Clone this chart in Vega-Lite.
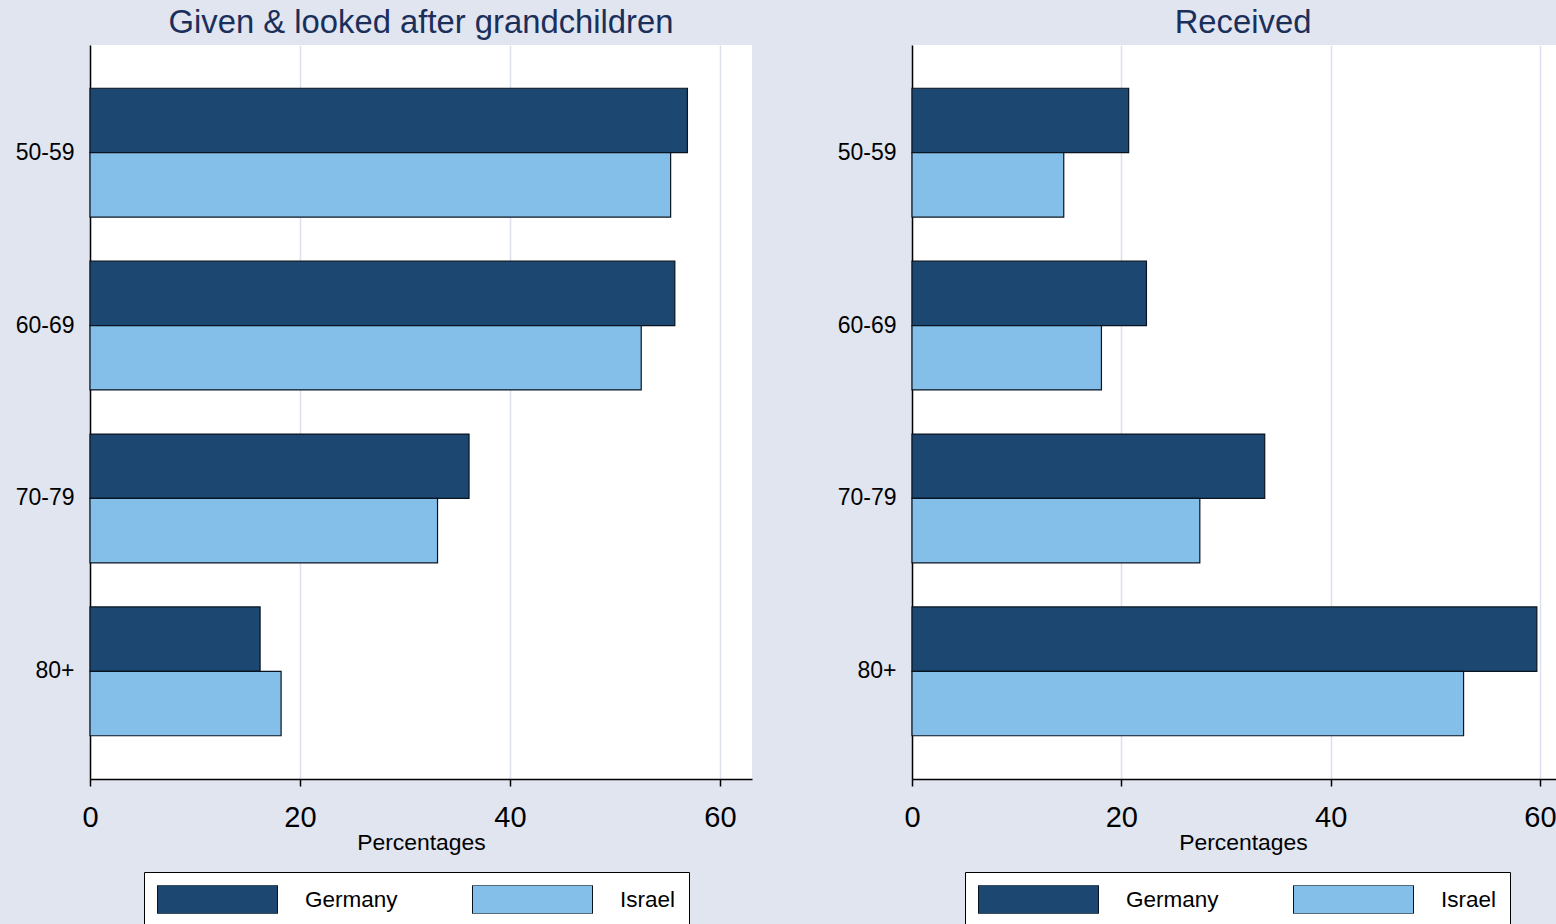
{
  "$schema": "https://vega.github.io/schema/vega-lite/v6.json",
  "background": "#E1E5F0",
  "padding": {"left": 15, "top": 7, "right": 0, "bottom": 0},
  "data": {"values": [
    {"panel": "Given", "age": "50-59", "country": "Germany", "pct": 56.9},
    {"panel": "Given", "age": "50-59", "country": "Israel", "pct": 55.3},
    {"panel": "Given", "age": "60-69", "country": "Germany", "pct": 55.7},
    {"panel": "Given", "age": "60-69", "country": "Israel", "pct": 52.5},
    {"panel": "Given", "age": "70-79", "country": "Germany", "pct": 36.1},
    {"panel": "Given", "age": "70-79", "country": "Israel", "pct": 33.1},
    {"panel": "Given", "age": "80+", "country": "Germany", "pct": 16.2},
    {"panel": "Given", "age": "80+", "country": "Israel", "pct": 18.2},
    {"panel": "Received", "age": "50-59", "country": "Germany", "pct": 20.7},
    {"panel": "Received", "age": "50-59", "country": "Israel", "pct": 14.5},
    {"panel": "Received", "age": "60-69", "country": "Germany", "pct": 22.4},
    {"panel": "Received", "age": "60-69", "country": "Israel", "pct": 18.1},
    {"panel": "Received", "age": "70-79", "country": "Germany", "pct": 33.7},
    {"panel": "Received", "age": "70-79", "country": "Israel", "pct": 27.5},
    {"panel": "Received", "age": "80+", "country": "Germany", "pct": 59.7},
    {"panel": "Received", "age": "80+", "country": "Israel", "pct": 52.7}
  ]},
  "spacing": 85,
  "resolve": {"scale": {"color": "independent", "x": "independent", "y": "independent"}, "legend": {"color": "independent"}},
  "hconcat": [
    {
      "width": 662,
      "height": 734,
      "title": {"text": "Given & looked after grandchildren"},
      "transform": [{"filter": "datum.panel === 'Given'"}],
      "mark": {"type": "bar", "stroke": "#0A1420", "strokeWidth": 1.2},
      "encoding": {
        "y": {"field": "age", "type": "nominal", "sort": ["50-59", "60-69", "70-79", "80+"],
              "scale": {"paddingInner": 0.255, "paddingOuter": 0.25}},
        "yOffset": {"field": "country", "type": "nominal", "sort": ["Germany", "Israel"], "scale": {"paddingInner": 0, "paddingOuter": 0}},
        "x": {"field": "pct", "type": "quantitative", "title": "Percentages",
              "scale": {"domain": [0, 63.05], "nice": false, "zero": true},
              "axis": {"values": [0, 20, 40, 60]}},
        "color": {"field": "country", "type": "nominal", "sort": ["Germany", "Israel"],
                  "scale": {"range": ["#1B4770", "#83BFE9"]},
                  "legend": {"orient": "none", "legendX": 54, "legendY": 827}}
      }
    },
    {
      "width": 662,
      "height": 734,
      "title": {"text": "Received"},
      "transform": [{"filter": "datum.panel === 'Received'"}],
      "mark": {"type": "bar", "stroke": "#0A1420", "strokeWidth": 1.2},
      "encoding": {
        "y": {"field": "age", "type": "nominal", "sort": ["50-59", "60-69", "70-79", "80+"],
              "scale": {"paddingInner": 0.255, "paddingOuter": 0.25}},
        "yOffset": {"field": "country", "type": "nominal", "sort": ["Germany", "Israel"], "scale": {"paddingInner": 0, "paddingOuter": 0}},
        "x": {"field": "pct", "type": "quantitative", "title": "Percentages",
              "scale": {"domain": [0, 63.25], "nice": false, "zero": true},
              "axis": {"values": [0, 20, 40, 60]}},
        "color": {"field": "country", "type": "nominal", "sort": ["Germany", "Israel"],
                  "scale": {"range": ["#1B4770", "#83BFE9"]},
                  "legend": {"orient": "none", "legendX": 53, "legendY": 827}}
      }
    }
  ],
  "config": {
    "font": "Liberation Sans",
    "view": {"fill": "white", "stroke": null},
    "title": {"fontSize": 32.8, "font": "Liberation Sans", "fontWeight": "normal", "color": "#1B2F5B",
              "anchor": "middle", "frame": "group", "baseline": "alphabetic", "offset": 5},
    "axisY": {"title": null, "labelFontSize": 23, "labelColor": "black", "labelPadding": 16, "ticks": false,
              "domainColor": "black", "domainWidth": 1.5, "grid": false},
    "axisX": {"format": "d", "labelFontSize": 29, "labelColor": "black", "labelPadding": 17,
              "tickSize": 7, "tickColor": "black", "tickWidth": 1.5, "domainColor": "black", "domainWidth": 1.5,
              "grid": true, "gridColor": "#DDE0EE", "gridWidth": 1.5,
              "titleFontSize": 22.9, "titleFontWeight": "normal", "titleColor": "black",
              "titleY": 70, "titleBaseline": "alphabetic", "labelFlush": false, "labelOverlap": false},
    "legend": {"title": null, "direction": "horizontal", "symbolType": "M-1,-0.475L3,-0.475L3,0.475L-1,0.475Z M6,0L6,0",
               "symbolSize": 3600, "clipHeight": 28.5, "symbolStrokeColor": "#0A1420", "symbolStrokeWidth": 1, "symbolOpacity": 1,
               "labelFontSize": 22.5, "labelColor": "black", "labelOffset": 87, "columnPadding": 74,
               "padding": 13, "strokeColor": "black", "fillColor": "white", "cornerRadius": 0}
  }
}
